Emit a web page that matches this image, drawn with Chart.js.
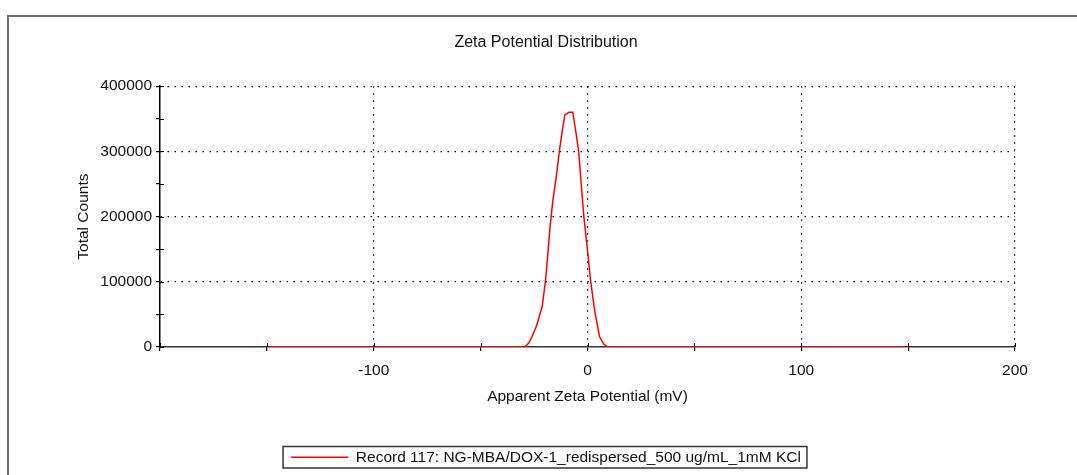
<!DOCTYPE html>
<html>
<head>
<meta charset="utf-8">
<script src="https://cdn.jsdelivr.net/npm/chart.js@4.4.1/dist/chart.umd.min.js"></script>
<style>
    html, body { margin: 0; padding: 0; background: #fff; overflow: hidden; }
    #marco { position: absolute; left: 7px; top: 15px; width: 1100px; height: 500px;
             border-left: 2px solid #6e6e6e; border-top: 2px solid #6e6e6e; }
    #contenedor { position: absolute; left: 0; top: 0; width: 1077px; height: 475px; }
</style>
</head>
<body>
<div id="marco"></div>
<div id="contenedor"><canvas id="grafica_zeta"></canvas></div>
<script>
/* values */
const zeta_mv      = [-150, -29.4, -27.5, -26.3, -24.0, -21.2, -19.6, -17.4, -16.2, -14.6, -13.1, -11.8, -10.6, -8.7, -6.9, -5.3, -4.1, -2.7, -1.7, 0.1, 1.4, 3.3, 5.6, 7.5, 9.5, 150];
const total_counts = [0, 0, 6000, 13500, 31000, 62000, 103000, 188000, 225000, 261000, 302000, 332000, 356000, 360000, 360000, 327000, 299000, 240000, 200000, 145000, 103000, 57000, 16000, 5000, 0, 0];
const y_ticks = [0, 100000, 200000, 300000, 400000];
const x_ticks = [-100, 0, 100, 200];
const etiqueta_serie = 'Record 117: NG-MBA/DOX-1_redispersed_500 ug/mL_1mM KCl';

Chart.defaults.font.family = '"Liberation Sans", Arial, sans-serif';
Chart.defaults.font.size = 15.5;
Chart.defaults.color = '#111';

/* small tick marks on the inner side of both axes */
const marcas_internas = {
    id: 'marcas_internas',
    afterDraw(chart) {
        const ctx = chart.ctx;
        const { x, y } = chart.scales;
        ctx.save();
        ctx.strokeStyle = '#000';
        ctx.lineWidth = 1;
        ctx.beginPath();
        x.ticks.forEach(t => {
            const px = Math.round(x.getPixelForValue(t.value)) + 0.5;
            ctx.moveTo(px, y.bottom);
            ctx.lineTo(px, y.bottom - 4);
        });
        y.ticks.forEach(t => {
            const py = Math.round(y.getPixelForValue(t.value)) + 0.5;
            ctx.moveTo(x.left, py);
            ctx.lineTo(x.left + 4, py);
        });
        ctx.stroke();
        ctx.restore();
    }
};

/* frame around the legend entry */
const marco_leyenda = {
    id: 'marco_leyenda',
    afterDraw(chart) {
        const caja = chart.legend.legendHitBoxes[0];
        if (!caja) return;
        const ctx = chart.ctx;
        ctx.save();
        ctx.strokeStyle = '#333';
        ctx.lineWidth = 1.5;
        ctx.strokeRect(caja.left - 8, caja.top - 3, caja.width + 14, caja.height + 6);
        ctx.restore();
    }
};

const puntos = zeta_mv.map((v, i) => ({ x: v, y: total_counts[i] }));

new Chart(document.getElementById('grafica_zeta'), {
    type: 'line',
    data: {
        datasets: [{
            label: etiqueta_serie,
            data: puntos,
            borderColor: '#ff0000',
            backgroundColor: '#ff0000',
            borderWidth: 1.5,
            pointRadius: 0,
            tension: 0,
            fill: false
        }]
    },
    options: {
        responsive: true,
        maintainAspectRatio: false,
        animation: false,
        layout: { padding: { left: 15, right: 0, top: 0, bottom: 0 } },
        plugins: {
            tooltip: { enabled: false },
            title: {
                display: true,
                text: 'Zeta Potential Distribution',
                color: '#111',
                font: { size: 16, weight: 'normal' },
                padding: { top: 32.5, bottom: 34.5 }
            },
            legend: {
                position: 'bottom',
                labels: {
                    usePointStyle: true,
                    pointStyle: 'line',
                    pointStyleWidth: 57,
                    padding: 10,
                    color: '#111'
                }
            }
        },
        scales: {
            x: {
                type: 'linear',
                min: -200,
                max: 200,
                afterFit: s => { s.height = 92.5; },
                border: { display: true, color: '#333', width: 1.5, dash: [1.5, 5.5] },
                grid: {
                    color: c => (x_ticks.includes(c.tick.value) ? '#000' : 'transparent'),
                    tickColor: '#000',
                    tickBorderDash: [],
                    tickLength: 4,
                    lineWidth: 1.2
                },
                ticks: {
                    stepSize: 50,
                    autoSkip: false,
                    maxRotation: 0,
                    padding: 10,
                    color: '#111',
                    callback: v => (x_ticks.includes(v) ? String(v) : '')
                },
                title: {
                    display: true,
                    text: 'Apparent Zeta Potential (mV)',
                    color: '#111',
                    padding: { top: 0, bottom: 33 }
                }
            },
            y: {
                min: 0,
                max: 400000,
                afterFit: s => { s.width = 145; },
                border: { display: true, color: '#000', width: 1.5, dash: [1.5, 5.5] },
                grid: {
                    color: c => (c.tick.value !== 0 && y_ticks.includes(c.tick.value) ? '#000' : 'transparent'),
                    tickColor: '#000',
                    tickBorderDash: [],
                    tickLength: 4,
                    lineWidth: 1.2
                },
                ticks: {
                    stepSize: 50000,
                    autoSkip: false,
                    padding: 4,
                    color: '#111',
                    callback: v => (y_ticks.includes(v) ? String(v) : '')
                },
                title: {
                    display: true,
                    text: 'Total Counts',
                    color: '#111',
                    padding: { top: 59, bottom: 0 }
                }
            },
            /* empty right-hand space */
            y_derecho: {
                position: 'right',
                display: true,
                afterFit: s => { s.width = 62; },
                border: { display: false },
                grid: { display: false, drawTicks: false },
                ticks: { display: false }
            }
        }
    },
    plugins: [marcas_internas, marco_leyenda]
});
</script>
</body>
</html>
